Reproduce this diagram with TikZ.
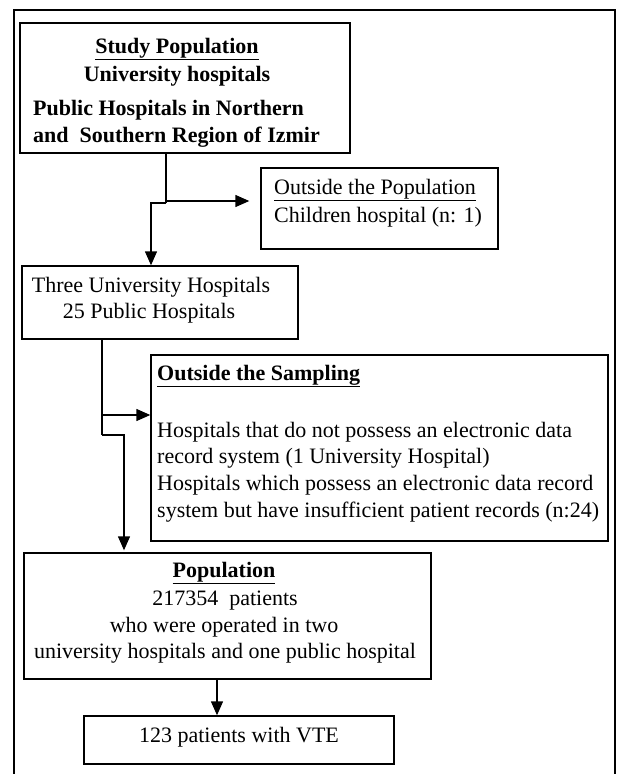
\documentclass[tikz,border=0pt]{standalone}
\usepackage{fontspec}
\setmainfont{Liberation Serif}
\usetikzlibrary{arrows.meta}
\tikzset{
  box/.style={draw, line width=1.4pt, rectangle, inner sep=0pt, anchor=center},
  txt/.style={inner sep=0pt, font=\fontsize{22}{26}\selectfont},
  btxt/.style={txt, font=\fontsize{22}{26}\selectfont\bfseries},
  conn/.style={line width=1.4pt},
  arr/.style={conn, -{Triangle[length=14pt,width=12pt]}},
}
\begin{document}
\begin{tikzpicture}[x=1pt,y=-1pt]
\useasboundingbox (0,0) rectangle (617,774);
\draw[line width=2.6pt] (14,780) -- (14,10) -- (615,10) -- (615,780);
% boxes
\node[box, minimum width=330, minimum height=130] (b1) at (185,88) {};
\node[box, minimum width=237, minimum height=81] (b2) at (379.5,208.5) {};
\node[box, minimum width=276, minimum height=73] (b3) at (160,302.5) {};
\node[box, minimum width=457, minimum height=186] (b4) at (379.5,448) {};
\node[box, minimum width=407, minimum height=126] (b5) at (227.5,616) {};
\node[box, minimum width=310, minimum height=48] (b6) at (239,740) {};
% texts box1
\node[btxt] (t11) at (177,49) {\underline{Study Population}};
\node[btxt] (t12) at (177,76) {University hospitals};
\node[btxt, anchor=west] (t13) at (33,110) {Public Hospitals in Northern};
\node[btxt, anchor=west] (t14) at (33,137) {and\ \ Southern Region of Izmir};
% box2
\node[txt, anchor=west] (t21) at (274,190) {\underline{Outside the Population}};
\node[txt, anchor=west] (t22) at (274,217) {Children hospital (n: 1)};
% box3
\node[txt] (t31) at (151,287) {Three University Hospitals};
\node[txt] (t32) at (149,313) {25 Public Hospitals};
% box4
\node[btxt, anchor=west] (t41) at (157,376) {\underline{Outside the Sampling}};
\node[txt, anchor=west] (t42) at (157,432) {Hospitals that do not possess an electronic data};
\node[txt, anchor=west] (t43) at (157,458) {record system (1 University Hospital)};
\node[txt, anchor=west] (t44) at (157,485) {Hospitals which possess an electronic data record};
\node[txt, anchor=west] (t45) at (157,512) {system but have insufficient patient records (n:24)};
% box5
\node[btxt] (t51) at (224,573) {\underline{Population}};
\node[txt] (t52) at (225,601) {217354\ \ patients};
\node[txt] (t53) at (224,627) {who were operated in two};
\node[txt] (t54) at (225,653) {university hospitals and one public hospital};
% box6
\node[txt] (t61) at (239,737) {123 patients with VTE};
% connectors
\coordinate (j1) at (166,201);
\coordinate (j1b) at (166,203);
\coordinate (j1c) at (151,203);
\draw[conn] (b1.south -| j1) -- (j1b);
\draw[arr] (j1) -- ([xshift=-11pt]b2.west |- j1);
\draw[arr] (j1b) -- (j1c) -- (b3.north -| j1c);
\coordinate (j2) at (102,415);
\coordinate (j2b) at (102,435);
\coordinate (j2c) at (124,435);
\draw[conn] (b3.south -| j2) -- (j2b);
\draw[arr] (j2) -- (b4.west |- j2);
\draw[arr] (j2b) -- (j2c) -- ([yshift=2pt]b5.north -| j2c);
\draw[arr] (b5.south -| 217,0) -- (b6.north -| 217,0);
\end{tikzpicture}
\end{document}
